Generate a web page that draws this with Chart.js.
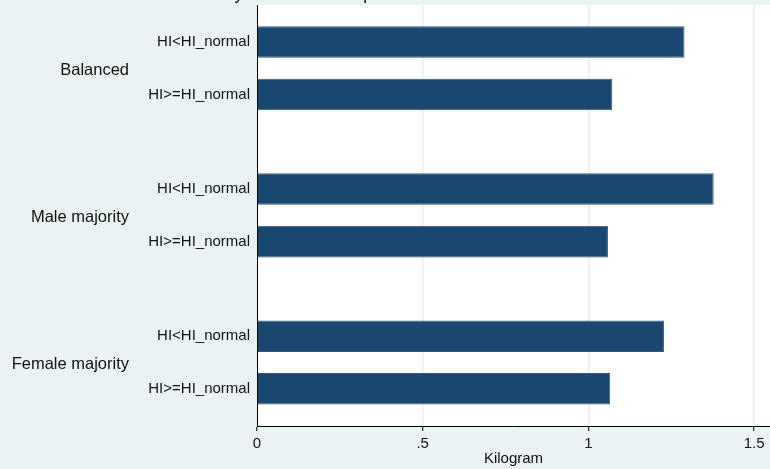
<!DOCTYPE html>
<html>
<head>
<meta charset="utf-8">
<script src="https://cdn.jsdelivr.net/npm/chart.js@4"></script>
<style>
  body { margin: 0; background: #eaf2f3; }
  #wrap { width: 770px; height: 469px; }
</style>
</head>
<body>
<div id="wrap"><canvas id="wasteChart" width="770" height="469"></canvas></div>
<script>
// groupes (axe y) et sous-groupes
const groups = ['Balanced', 'Male majority', 'Female majority'];
const heatLevels = ['HI<HI_normal', 'HI>=HI_normal'];

// valeurs (kg)
const belowNormal = [1.290, 1.378, 1.228];
const aboveNormal = [1.072, 1.059, 1.066];

const xTicks = [0, 0.5, 1, 1.5];
const xTickLabels = ['0', '.5', '1', '1.5'];

const barColor = '#1a476f';
const font = '"Liberation Sans", Arial, sans-serif';

// fond blanc de la zone de tracé + titre coupé en haut (seul le bas des lettres est visible)
const plotBackground = {
    id: 'plotBackground',
    beforeDraw(chart) {
        const { ctx, chartArea } = chart;
        ctx.save();
        ctx.fillStyle = '#ffffff';
        ctx.fillRect(chartArea.left, chartArea.top, chart.width - chartArea.left, chartArea.bottom - chartArea.top);
        ctx.fillStyle = '#111';
        ctx.font = '17px ' + font;
        ctx.textAlign = 'right';
        ctx.textBaseline = 'alphabetic';
        ctx.fillText('by household composition and heat index', 538, 0);
        ctx.restore();
    }
};

// étiquettes HI à gauche de chaque barre
const heatLabels = {
    id: 'heatLabels',
    afterDraw(chart) {
        const { ctx, chartArea } = chart;
        ctx.save();
        ctx.font = '15px ' + font;
        ctx.fillStyle = '#111';
        ctx.textAlign = 'right';
        ctx.textBaseline = 'middle';
        chart.data.datasets.forEach((ds, i) => {
            chart.getDatasetMeta(i).data.forEach(bar => {
                ctx.fillText(ds.label, chartArea.left - 7, bar.y);
            });
        });
        ctx.restore();
    }
};

function barSeries(label, values) {
    return {
        label: label,
        data: values.map((v, i) => ({ x: v, y: i })),
        backgroundColor: barColor,
        borderColor: '#32597f',
        borderWidth: 1,
        categoryPercentage: 0.715,
        barPercentage: 0.6
    };
}

new Chart(document.getElementById('wasteChart'), {
    type: 'bar',
    data: {
        datasets: [
            barSeries(heatLevels[0], belowNormal),
            barSeries(heatLevels[1], aboveNormal)
        ]
    },
    options: {
        indexAxis: 'y',
        responsive: false,
        animation: false,
        layout: { padding: { top: 5, right: 0, left: 0, bottom: 0 } },
        plugins: {
            legend: { display: false },
            tooltip: { enabled: false }
        },
        scales: {
            x: {
                type: 'linear',
                min: 0,
                max: 1.548,
                afterBuildTicks: scale => {
                    scale.ticks = xTicks.map(v => ({ value: v }));
                },
                afterFit: scale => {
                    scale.height = 43;
                    scale.paddingLeft = 0;
                    scale.paddingRight = 0;
                },
                ticks: {
                    color: '#111',
                    padding: 4,
                    maxRotation: 0,
                    font: { family: font, size: 15 },
                    callback: value => xTickLabels[xTicks.indexOf(value)]
                },
                grid: {
                    color: ctx => (ctx.tick && ctx.tick.value === 0) ? 'rgba(0,0,0,0)' : '#e6eef0',
                    lineWidth: 1.5,
                    drawTicks: true,
                    tickLength: 5,
                    tickColor: '#000',
                    tickWidth: 1
                },
                border: { display: true, color: '#000', width: 1 },
                title: {
                    display: true,
                    text: 'Kilogram',
                    color: '#111',
                    padding: { top: 0, bottom: 1 },
                    font: { family: font, size: 15 }
                }
            },
            y: {
                type: 'linear',
                reverse: true,
                offset: false,
                min: -0.430,
                max: 2.432,
                afterBuildTicks: scale => {
                    scale.ticks = groups.map((g, i) => ({ value: i }));
                },
                afterFit: scale => {
                    scale.width = 257;
                    scale.paddingTop = 0;
                    scale.paddingBottom = 0;
                },
                ticks: {
                    autoSkip: false,
                    color: '#111',
                    padding: 128,
                    labelOffset: 2,
                    font: { family: font, size: 16.5 },
                    callback: value => groups[value]
                },
                grid: { display: false, drawTicks: false, offset: false },
                border: { display: true, color: '#000', width: 1 }
            }
        }
    },
    plugins: [plotBackground, heatLabels]
});
</script>
</body>
</html>
